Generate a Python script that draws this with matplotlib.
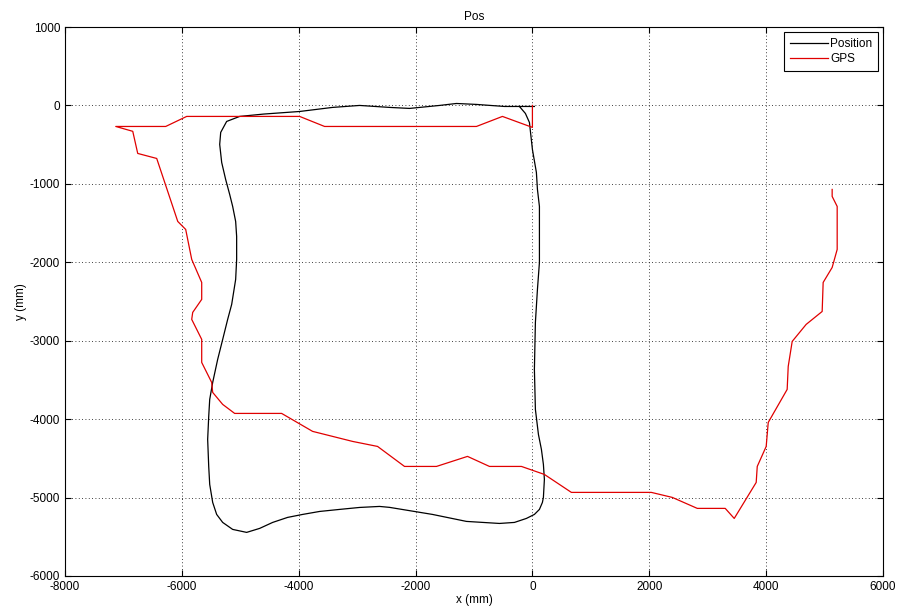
import matplotlib
matplotlib.use("Agg")
import matplotlib.pyplot as plt

# Position estimate (black)
pos_x = [34, -479, -958, -1300, -1590, -2103, -2445, -2958, -3420, -3984, -4600, -5010,
         -5233, -5335, -5352, -5318, -5250, -5181, -5130, -5079, -5062, -5062, -5079,
         -5147, -5216, -5301, -5387, -5472, -5523, -5540, -5558, -5540, -5523, -5472,
         -5404, -5301, -5130, -4891, -4668, -4446, -4190, -3933, -3642, -3300, -2958,
         -2616, -2445, -1710, -1129, -564, -308, -103, 34,
         120, 171, 188, 205, 188, 154, 103, 51, 34, 51, 86, 120, 120, 120, 86, 68, 0,
         -51, -120, -222]
pos_y = [-13, -13, 13, 25, 0, -38, -25, 0, -25, -77, -110, -140,
         -204, -344, -497, -727, -944, -1135, -1288, -1479, -1670, -1964, -2219,
         -2537, -2729, -2984, -3239, -3532, -3749, -3965, -4259, -4603, -4832, -5062,
         -5215, -5317, -5406, -5444, -5393, -5317, -5253, -5215, -5177, -5151, -5126,
         -5113, -5125, -5215, -5304, -5330, -5317, -5266, -5215,
         -5151, -5062, -4998, -4768, -4577, -4386, -4195, -3876, -3366, -2767, -2346,
         -2002, -1581, -1288, -1071, -854, -561, -217, -102, -13]

# GPS (red)
gps_x = [0, 0, -513, -958, -3557, -3984, -5917, -6276, -7131, -6840, -6755, -6430,
         -6070, -5934, -5831, -5660, -5660, -5814, -5831, -5660, -5660, -5489, -5472,
         -5301, -5096, -4292, -3762, -3078, -2650, -2189, -1642, -1111, -735, -188,
         205, 667, 2035, 2394, 2822, 3300, 3454, 3830, 3848, 4001, 4036, 4360, 4378,
         4446, 4685, 4959, 4976, 5130, 5216, 5216, 5130, 5130]
gps_y = [0, -280, -140, -268, -268, -140, -140, -268, -268, -330, -612, -676,
         -1479, -1581, -1963, -2257, -2473, -2639, -2728, -2983, -3277, -3532, -3659,
         -3812, -3927, -3927, -4156, -4284, -4348, -4603, -4603, -4475, -4603, -4603,
         -4705, -4934, -4934, -4998, -5138, -5138, -5266, -4807, -4603, -4348, -4042,
         -3621, -3328, -3009, -2792, -2627, -2257, -2066, -1836, -1288, -1160, -1071]

plt.rcParams['font.family'] = ['Liberation Sans', 'DejaVu Sans']
plt.rcParams['font.size'] = 8
plt.rcParams['axes.unicode_minus'] = False

fig = plt.figure(figsize=(9, 6.14), dpi=100)
ax = fig.add_axes([0.0722, 0.0619, 0.9089, 0.8941])

ax.plot(pos_x, pos_y, color="black", lw=0.9, label="Position")
ax.plot(gps_x, gps_y, color="#e00000", lw=0.9, label="GPS")

ax.set_xlim(-8000, 6000)
ax.set_ylim(-6000, 1000)
ax.set_xticks(range(-8000, 6001, 2000))
ax.set_yticks(range(-6000, 1001, 1000))
ax.grid(True, color="black", linestyle=(0, (1, 3)), linewidth=0.6)
ax.tick_params(direction="in", top=True, right=True, length=4, labelsize=8.5)
ax.set_title("Pos", fontsize=8.5, pad=5)
ax.set_xlabel("x (mm)", fontsize=8.5, labelpad=1)
ax.set_ylabel("y (mm)", fontsize=8.5, labelpad=2)

leg = ax.legend(loc="upper right", fancybox=False, framealpha=1, edgecolor="black",
                handlelength=3.2, handletextpad=0.2, borderaxespad=0.4,
                borderpad=0.5, labelspacing=0.3, fontsize=8.5)
leg.get_frame().set_linewidth(0.8)

fig.savefig("out.png", dpi=100)
